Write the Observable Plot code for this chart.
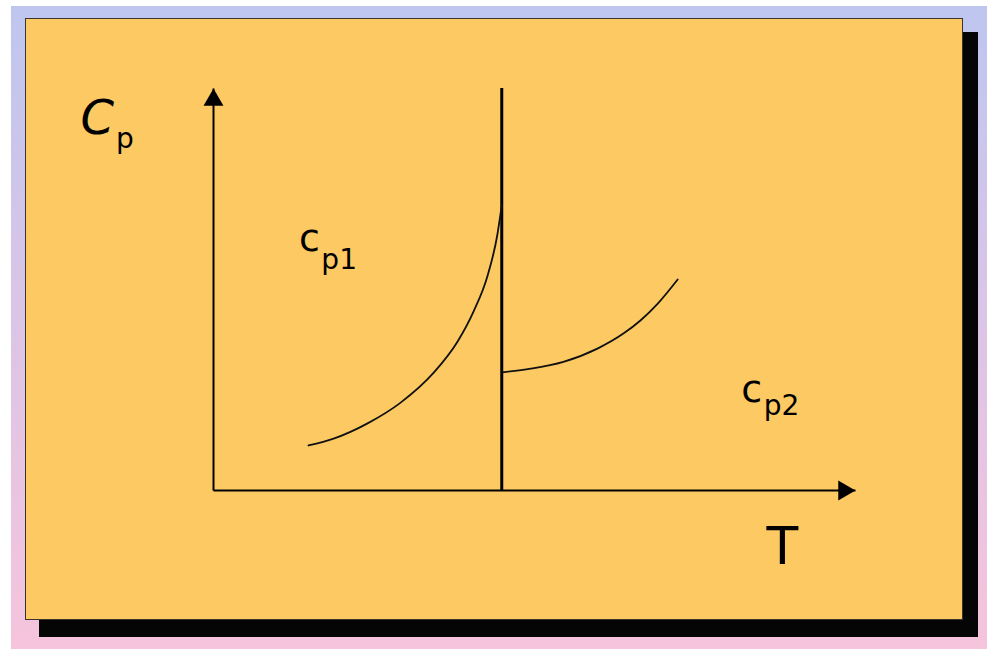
<!DOCTYPE html>
<html>
<head>
<meta charset="utf-8">
<script src="https://cdn.jsdelivr.net/npm/d3@7"></script>
<script src="https://cdn.jsdelivr.net/npm/@observablehq/plot@0.6"></script>
<style>
  html, body { margin: 0; padding: 0; background: #ffffff; width: 987px; height: 649px; overflow: hidden; }
  #bg { position: absolute; left: 11px; top: 6px; width: 976px; height: 643px;
        background: linear-gradient(to bottom, #bec6ef 0%, #d9c5e7 45%, #f6c4dc 100%); }
  #shadow { position: absolute; left: 39px; top: 32px; width: 939px; height: 605px; background: #050505; }
  #panel { position: absolute; left: 25px; top: 18px; width: 936px; height: 600px;
           background: #fdc963; border: 1.5px solid #3a3330; }
  #chart { position: absolute; left: 0; top: 0; }
  #chart svg { background: transparent; }
</style>
</head>
<body>
<div id="bg"></div>
<div id="shadow"></div>
<div id="panel"></div>
<div id="chart"></div>
<script>
// Phase transition temperature (T units)
const transitionT = 4.49;

// Phase 1 heat capacity curve (below transition)
const phase1T  = [1.48, 1.87, 2.40, 2.91, 3.43, 3.80, 4.05, 4.27, 4.42, 4.49];
const phase1Cp = [1.12, 1.29, 1.67, 2.18, 2.93, 3.70, 4.45, 5.35, 6.35, 7.09];

// Phase 2 heat capacity curve (above transition)
const phase2T  = [4.50, 4.94, 5.45, 5.98, 6.39, 6.65, 6.92, 7.23];
const phase2Cp = [2.94, 3.03, 3.20, 3.53, 3.91, 4.23, 4.65, 5.25];

// Axis extents
const axisMax = 10;

const phase1 = phase1T.map((t, i) => ({T: t, Cp: phase1Cp[i]}));
const phase2 = phase2T.map((t, i) => ({T: t, Cp: phase2Cp[i]}));

const font = "DejaVu Sans, sans-serif";

const chart = Plot.plot({
  width: 987,
  height: 649,
  margin: 0,
  style: {background: "transparent", overflow: "visible"},
  x: {domain: [0, axisMax], range: [213, 855], axis: null},
  y: {domain: [0, axisMax], range: [490, 88], axis: null},
  marks: [
    // axes lines
    Plot.link([{x1: 0, y1: 0, x2: 0, y2: axisMax}], {x1: "x1", y1: "y1", x2: "x2", y2: "y2", stroke: "#000", strokeWidth: 2}),
    Plot.link([{x1: 0, y1: 0, x2: axisMax, y2: 0}], {x1: "x1", y1: "y1", x2: "x2", y2: "y2", stroke: "#000", strokeWidth: 2}),
    // arrowheads
    Plot.dot([{x: 0, y: axisMax}], {x: "x", y: "y", symbol: "triangle", r: 7.4, fill: "#000", stroke: null, dy: 11.5}),
    Plot.dot([{x: axisMax, y: 0}], {x: "x", y: "y", symbol: "triangle", r: 7.4, fill: "#000", stroke: null, rotate: 90, dx: -11.5}),
    // transition line
    Plot.ruleX([transitionT], {y1: 0, y2: axisMax, stroke: "#000", strokeWidth: 3}),
    // curves
    Plot.line(phase1, {x: "T", y: "Cp", curve: "monotone-x", stroke: "#111", strokeWidth: 1.8}),
    Plot.line(phase2, {x: "T", y: "Cp", curve: "monotone-x", stroke: "#111", strokeWidth: 1.8}),
    // labels
    Plot.text(["C"], {x: -2.07, y: 8.88, text: d => d, fontSize: 48, fontStyle: "italic", fontFamily: font, textAnchor: "start", lineAnchor: "bottom", fill: "#000"}),
    Plot.text(["p"], {x: -1.52, y: 8.53, text: d => d, fontSize: 28, fontFamily: font, textAnchor: "start", lineAnchor: "bottom", fill: "#000"}),
    Plot.text(["c"], {x: 1.33, y: 5.97, text: d => d, fontSize: 38, fontFamily: font, textAnchor: "start", lineAnchor: "bottom", fill: "#000"}),
    Plot.text(["p1"], {x: 1.68, y: 5.52, text: d => d, fontSize: 28, fontFamily: font, textAnchor: "start", lineAnchor: "bottom", fill: "#000"}),
    Plot.text(["c"], {x: 8.22, y: 2.19, text: d => d, fontSize: 38, fontFamily: font, textAnchor: "start", lineAnchor: "bottom", fill: "#000"}),
    Plot.text(["p2"], {x: 8.57, y: 1.87, text: d => d, fontSize: 28, fontFamily: font, textAnchor: "start", lineAnchor: "bottom", fill: "#000"}),
    Plot.text(["T"], {x: 8.86, y: -1.82, text: d => d, fontSize: 52, fontFamily: font, textAnchor: "middle", lineAnchor: "bottom", fill: "#000"})
  ]
});
document.getElementById("chart").appendChild(chart);
</script>
</body>
</html>
